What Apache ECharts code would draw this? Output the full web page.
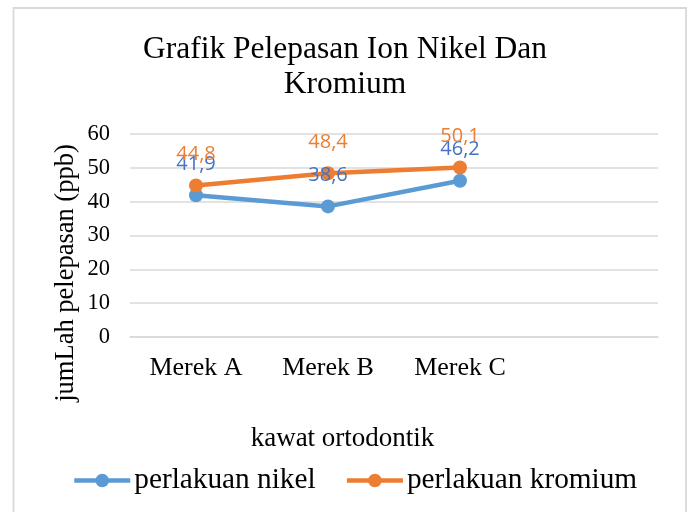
<!DOCTYPE html>
<html>
<head>
<meta charset="utf-8">
<script src="https://cdn.jsdelivr.net/npm/echarts@6/dist/echarts.min.js"></script>
<style>html,body{margin:0;padding:0;background:#fff}#c{width:690px;height:512px}</style>
</head>
<body>
<div id="c"></div>
<script>
var categories = ['Merek A', 'Merek B', 'Merek C', ''];
var nikel = [41.9, 38.6, 46.2];
var kromium = [44.8, 48.4, 50.1];
var yTicks = {min: 0, max: 60, interval: 10};
var seriesNames = ['perlakuan nikel', 'perlakuan kromium'];

var serif = 'Liberation Serif';
var chart = echarts.init(document.getElementById('c'));
function fmt(p){ return String(p.value).replace('.', ','); }
chart.setOption({
  animation: false,
  backgroundColor: '#fff',
  title: {
    text: 'Grafik Pelepasan Ion Nikel Dan\nKromium',
    left: 'center', top: 32, padding: [0, 0, 0, 11],
    textStyle: {fontFamily: serif, fontSize: 31.5, fontWeight: 'normal', color: '#000', lineHeight: 35}
  },
  graphic: [
    {type: 'rect', shape: {x: 13.5, y: 8, width: 672.5, height: 520}, style: {fill: 'none', stroke: '#d9d9d9', lineWidth: 1.8}, silent: true},
    {type: 'text', x: 66, y: 273, rotation: Math.PI / 2,
     style: {text: 'jumLah pelepasan (ppb)', fontFamily: serif, fontSize: 26.5, fill: '#000', align: 'center', verticalAlign: 'middle'}},
    {type: 'text', x: 342.5, y: 439,
     style: {text: 'kawat ortodontik', fontFamily: serif, fontSize: 27, fill: '#000', align: 'center', verticalAlign: 'middle'}}
  ],
  legend: {
    top: 461, left: 67,
    itemWidth: 56, itemHeight: 17, itemGap: 29,
    lineStyle: {width: 4.5},
    textStyle: {fontFamily: serif, fontSize: 29.3, color: '#000', padding: [0, 0, 0, -1]},
    data: seriesNames
  },
  grid: {left: 130, right: 32, top: 134, bottom: 175},
  xAxis: {
    type: 'category', data: categories, boundaryGap: true,
    axisLine: {show: true, lineStyle: {color: '#d9d9d9', width: 1.5}},
    axisTick: {show: false},
    axisLabel: {fontFamily: serif, fontSize: 26, color: '#000', margin: 18}
  },
  yAxis: {
    type: 'value', min: yTicks.min, max: yTicks.max, interval: yTicks.interval,
    axisLine: {show: false}, axisTick: {show: false},
    splitLine: {lineStyle: {color: '#d9d9d9', width: 1.5}},
    axisLabel: {fontFamily: serif, fontSize: 22.5, color: '#000', margin: 20}
  },
  series: [
    {
      name: seriesNames[0], type: 'line', data: nikel,
      symbol: 'circle', symbolSize: 14,
      itemStyle: {color: '#5B9BD5'}, lineStyle: {color: '#5B9BD5', width: 4.5},
      label: {show: true, position: 'top', distance: 14, formatter: fmt,
              fontFamily: 'Open Sans', fontSize: 20, color: '#4472C4'}
    },
    {
      name: seriesNames[1], type: 'line', data: kromium,
      symbol: 'circle', symbolSize: 14,
      itemStyle: {color: '#ED7D31'}, lineStyle: {color: '#ED7D31', width: 4.5},
      label: {show: true, position: 'top', distance: 14, formatter: fmt,
              fontFamily: 'Open Sans', fontSize: 20, color: '#ED7D31'}
    }
  ]
});
</script>
</body>
</html>
